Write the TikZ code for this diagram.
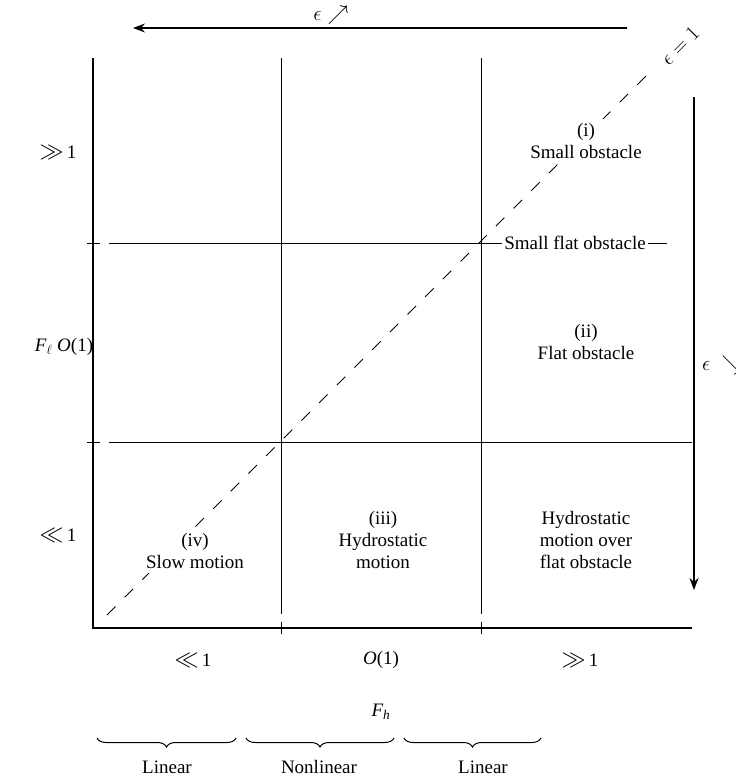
\RequirePackage{fix-cm}
\documentclass[tikz,border=0pt]{standalone}
\usepackage{amsmath}
\usepackage{fontspec}
\setmainfont{Liberation Serif}
\usetikzlibrary{arrows.meta,decorations.pathreplacing}
\newcommand\mbig[1]{{\fontsize{24}{26}\selectfont$#1$}}
\newcommand\mmid[1]{{\fontsize{21}{24}\selectfont$#1$}}
\begin{document}
\begin{tikzpicture}[x=1pt,y=-1pt,
  font=\fontsize{19}{22}\selectfont,
  axisline/.style={line width=1.3pt},
  gridline/.style={line width=0.8pt},
  tickline/.style={line width=0.8pt},
  diagline/.style={line width=0.8pt, dash pattern=on 12pt off 13pt},
  bigarrow/.style={line width=1.4pt, -{Stealth[length=12pt,width=9pt]}},
  lbl/.style={align=center, inner sep=0pt},
  region/.style={align=center, fill=white, inner xsep=3pt, inner ysep=4pt},
  bracestyle/.style={line width=1pt, decorate, decoration={brace, mirror, amplitude=9pt}}
]
\useasboundingbox (0,0) rectangle (736,777);

% axes
\coordinate (ytop) at (93,58);
\coordinate (orig) at (93,628);
\coordinate (xend) at (692,628);
\draw[axisline] (ytop) -- (orig) -- (xend);

% vertical grid lines and ticks
\coordinate (v1t) at (281,58);  \coordinate (v1b) at (281,614);
\coordinate (v2t) at (481,58);  \coordinate (v2b) at (481,614);
\draw[gridline] (v1t) -- (v1b);
\draw[gridline] (v2t) -- (v2b);
\coordinate (t1a) at (281,622); \coordinate (t1b) at (281,634);
\coordinate (t2a) at (481,622); \coordinate (t2b) at (481,634);
\draw[tickline] (t1a) -- (t1b);
\draw[tickline] (t2a) -- (t2b);

% horizontal grid lines and ticks
\coordinate (h1a) at (109,243); \coordinate (h1b) at (667,243);
\coordinate (h2a) at (109,442); \coordinate (h2b) at (692,442);
\draw[gridline] (h1a) -- (h1b);
\draw[gridline] (h2a) -- (h2b);
\coordinate (lt1a) at (87,243); \coordinate (lt1b) at (100,243);
\coordinate (lt2a) at (87,442); \coordinate (lt2b) at (100,442);
\draw[tickline] (lt1a) -- (lt1b);
\draw[tickline] (lt2a) -- (lt2b);

% diagonal epsilon = 1
\coordinate (d1) at (107,615);
\coordinate (d2) at (652,70);
\draw[diagline] (d1) -- (d2);
\node[lbl, rotate=45] (epsone) at (680,46) {\mmid{\epsilon = 1}};

% top arrow
\coordinate (ta1) at (627,28);
\coordinate (ta2) at (133,28);
\draw[bigarrow] (ta1) -- (ta2);
\node[lbl] (eptop) at (331,15) {\mmid{\epsilon\nearrow}};

% right arrow
\coordinate (ra1) at (694,97);
\coordinate (ra2) at (694,590);
\draw[bigarrow] (ra1) -- (ra2);
\node[lbl, anchor=west] (epright) at (702,365) {\mmid{\epsilon\ \searrow}};

% left labels
\node[lbl] (lgg) at (58,152) {\mbig{\gg}\,1};
\node[lbl] (lfl) at (64,347) {$\textit{F}_{\ell}$ \textit{O}(1)};
\node[lbl] (lll) at (58,535) {\mbig{\ll}\,1};

% bottom labels
\node[lbl] (bll) at (193,660) {\mbig{\ll}\,1};
\node[lbl] (bo) at (381,660) {\textit{O}(1)};
\node[lbl] (bgg) at (580,660) {\mbig{\gg}\,1};
\node[lbl] (bfh) at (381,712) {$\textit{F}_{\textit{h}}$};

% braces
\coordinate (b1a) at (97,738);  \coordinate (b1b) at (236,738);
\coordinate (b2a) at (246,738); \coordinate (b2b) at (394,738);
\coordinate (b3a) at (404,738); \coordinate (b3b) at (541,738);
\draw[bracestyle] (b1a) -- (b1b);
\draw[bracestyle] (b2a) -- (b2b);
\draw[bracestyle] (b3a) -- (b3b);
\node[lbl] (lin1) at (167,767) {Linear};
\node[lbl] (nonlin) at (319,767) {Nonlinear};
\node[lbl] (lin2) at (483,767) {Linear};

% region labels
\node[region] (ri) at (586,141) {(i)\\Small obstacle};
\node[lbl, fill=white, inner xsep=2pt, inner ysep=1pt] (rsf) at (575,243) {Small flat obstacle};
\node[region] (rii) at (586,342) {(ii)\\Flat obstacle};
\node[region] (riii) at (383,540) {(iii)\\Hydrostatic\\motion};
\node[region] (riv) at (195,551) {(iv)\\Slow motion};
\node[region] (rhf) at (586,540) {Hydrostatic\\motion over\\flat obstacle};
\end{tikzpicture}
\end{document}
